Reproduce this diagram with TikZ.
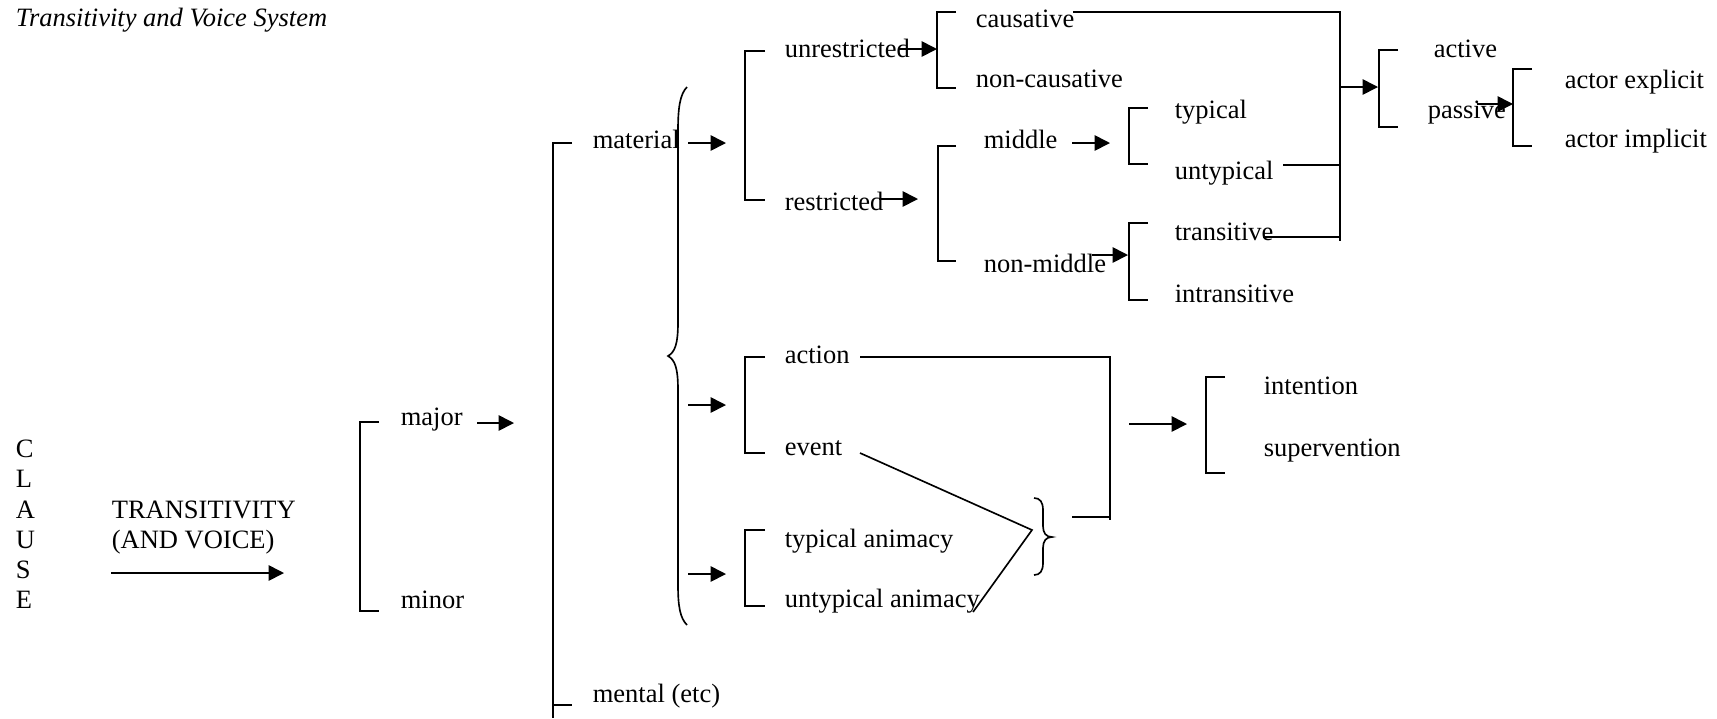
\documentclass[tikz,border=0pt]{standalone}
\usepackage{fontspec}
\setmainfont{Liberation Serif}
\usetikzlibrary{arrows.meta}
\begin{document}
\begin{tikzpicture}[x=0.4566pt,y=-0.4566pt,
  line width=0.75pt,
  lbl/.style={anchor=base west,inner sep=0pt,font=\fontsize{12.1}{14}\selectfont},
  feed/.style={-{Triangle[length=7pt,width=7pt]}},
  bar/.style={line join=miter}]
\useasboundingbox (0,0) rectangle (1717,718);

% heading
\node[lbl,font=\fontsize{12.1}{14}\selectfont\itshape] (title) at (15,26) {Transitivity and Voice System};

% entry condition
\foreach \ch/\yy [count=\i] in {C/457,L/487,A/518,U/548,S/578,E/608}
  \node[lbl] (clause\i) at (15,\yy) {\ch};
\node[lbl] (sysname) at (111,518) {TRANSITIVITY};
\node[lbl] (sysvoice) at (111,548) {(AND VOICE)};
\coordinate (entryA) at (111,573);
\coordinate (entryB) at (284,573);
\draw[feed] (entryA) -- (entryB);

% major / minor
\draw[bar] (379,422) -- (360,422) -- (360,611) -- (379,611);
\node[lbl] (major) at (400,425) {major};
\node[lbl] (minor) at (400,608) {minor};
\coordinate (majA) at (477,423);
\coordinate (majB) at (514,423);
\draw[feed] (majA) -- (majB);

% process types
\draw[bar] (572,143) -- (553,143) -- (553,718);
\draw (553,705) -- (572,705);
\node[lbl] (material) at (592,148) {material};
\node[lbl] (mental) at (592,702) {mental (etc)};

% simultaneous systems under material
\draw (687,87) .. controls (680,94) and (678,108) .. (678,130)
  -- (678,322) .. controls (678,344) and (675,352) .. (668,356)
  .. controls (675,360) and (678,368) .. (678,390)
  -- (678,585) .. controls (678,606) and (680,618) .. (687,625);
\coordinate (matA1) at (688,143);  \coordinate (matB1) at (726,143);
\coordinate (matA2) at (688,405);  \coordinate (matB2) at (726,405);
\coordinate (matA3) at (688,574);  \coordinate (matB3) at (726,574);
\draw[feed] (matA1) -- (matB1);
\draw[feed] (matA2) -- (matB2);
\draw[feed] (matA3) -- (matB3);

% unrestricted / restricted
\draw[bar] (765,51) -- (745,51) -- (745,200) -- (765,200);
\node[lbl] (unrestricted) at (784,57) {unrestricted};
\node[lbl] (restricted) at (784,210) {restricted};
\coordinate (unrA) at (899,49);  \coordinate (unrB) at (937,49);
\draw[feed] (unrA) -- (unrB);
\coordinate (resA) at (879,199); \coordinate (resB) at (918,199);
\draw[feed] (resA) -- (resB);

% causative / non-causative
\draw[bar] (956,12) -- (937,12) -- (937,88) -- (956,88);
\node[lbl] (causative) at (975,27) {causative};
\node[lbl] (noncausative) at (975,87) {non-causative};

% middle / non-middle
\draw[bar] (956,146) -- (938,146) -- (938,261) -- (956,261);
\node[lbl] (middle) at (983,148) {middle};
\node[lbl] (nonmiddle) at (983,272) {non-middle};
\coordinate (midA) at (1072,143); \coordinate (midB) at (1110,143);
\draw[feed] (midA) -- (midB);
\coordinate (nmidA) at (1092,255); \coordinate (nmidB) at (1128,255);
\draw[feed] (nmidA) -- (nmidB);

% typical / untypical
\draw[bar] (1148,108) -- (1129,108) -- (1129,164) -- (1148,164);
\node[lbl] (typical) at (1174,118) {typical};
\node[lbl] (untypical) at (1174,179) {untypical};

% transitive / intransitive
\draw[bar] (1148,223) -- (1129,223) -- (1129,300) -- (1148,300);
\node[lbl] (transitive) at (1174,240) {transitive};
\node[lbl] (intransitive) at (1174,302) {intransitive};

% conjunction into voice
\coordinate (joinTop) at (1340,12);
\coordinate (joinBot) at (1340,241);
\draw (1073,12) -- (joinTop) -- (joinBot);
\draw (1283,165) -- (1340,165);
\draw (1263,237) -- (1340,237);
\coordinate (voiA) at (1340,87); \coordinate (voiB) at (1378,87);
\draw[feed] (voiA) -- (voiB);

% active / passive
\draw[bar] (1398,50) -- (1379,50) -- (1379,127) -- (1398,127);
\node[lbl] (active) at (1433,57) {active};
\node[lbl] (passive) at (1427,118) {passive};
\coordinate (pasA) at (1477,104); \coordinate (pasB) at (1513,104);
\draw[feed] (pasA) -- (pasB);

% actor explicit / implicit
\draw[bar] (1532,69) -- (1513,69) -- (1513,146) -- (1532,146);
\node[lbl] (explicit) at (1564,88) {actor explicit};
\node[lbl] (implicit) at (1564,147) {actor implicit};

% action / event
\draw[bar] (765,357) -- (745,357) -- (745,453) -- (765,453);
\node[lbl] (action) at (784,363) {action};
\node[lbl] (event) at (784,455) {event};

% typical / untypical animacy
\draw[bar] (765,530) -- (745,530) -- (745,606) -- (765,606);
\node[lbl] (typanim) at (784,547) {typical animacy};
\node[lbl] (untypanim) at (784,607) {untypical animacy};

% event + untypical animacy combined
\coordinate (meet) at (1032,530);
\draw (860,453) -- (meet) -- (973,612);
\draw (1034,498) .. controls (1040,498) and (1043,502) .. (1043,510)
  -- (1043,526) .. controls (1043,533) and (1046,537) .. (1052,537)
  .. controls (1046,537) and (1043,541) .. (1043,548)
  -- (1043,563) .. controls (1043,571) and (1040,575) .. (1034,575);

% conjunction into agency
\draw (860,357) -- (1110,357) -- (1110,520);
\draw (1072,517) -- (1110,517);
\coordinate (agA) at (1129,424); \coordinate (agB) at (1187,424);
\draw[feed] (agA) -- (agB);

% intention / supervention
\draw[bar] (1225,377) -- (1206,377) -- (1206,473) -- (1225,473);
\node[lbl] (intention) at (1263,394) {intention};
\node[lbl] (supervention) at (1263,456) {supervention};
\end{tikzpicture}
\end{document}
